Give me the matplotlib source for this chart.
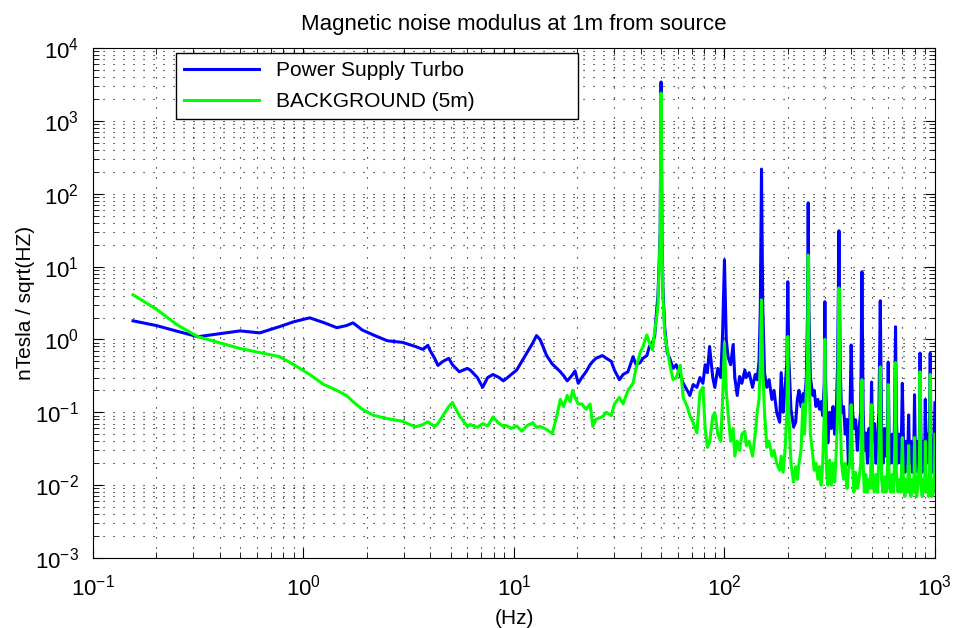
import numpy as np
import matplotlib
matplotlib.use("Agg")
import matplotlib.pyplot as plt

plt.rcParams['font.family'] = ['Liberation Sans', 'DejaVu Sans']
plt.rcParams['mathtext.fontset'] = 'custom'
plt.rcParams['mathtext.rm'] = 'Liberation Sans'

# частоти (Гц), спільні для обох кривих
freq = [
    0.155, 0.2, 0.25, 0.315, 0.4, 0.5, 0.62, 0.77, 0.9, 1.07,
    1.25, 1.44, 1.6, 1.72, 1.9, 2.15, 2.5, 2.96, 3.4, 3.7,
    3.9, 4.0, 4.2, 4.35, 4.6, 4.9, 5.1, 5.5, 6.0, 6.2,
    6.7, 7.1, 7.5, 7.95, 8.5, 8.9, 9.2, 9.7, 10.3, 10.9,
    11.5, 12.3, 12.8, 13.3, 14.3, 15.2, 16.0, 16.6, 17.2, 17.9,
    18.5, 19.0, 19.5, 20.2, 21, 22.0, 23, 23.7, 24.5, 26.3,
    27.5, 29, 30, 31.7, 33, 34.8, 36.8, 38, 39.7, 41,
    42.8, 44, 45.5, 46.6, 47.5, 48.3, 49.0, 49.5, 50.0, 50.5,
    51.0, 52, 53.5, 55, 57, 59, 61.7, 63.7, 66.5, 68.5,
    71, 74, 76.5, 79, 81, 83, 85, 88, 90, 93,
    96, 98, 100, 102, 104, 107, 110, 112, 115, 118,
    121, 125, 127, 131, 136, 140, 143, 146, 148, 150,
    152, 155, 159, 163, 168, 172, 177, 183, 186, 190,
    194, 198, 200, 202, 207, 213, 218, 222, 226, 231,
    236, 240, 245, 248, 250, 252, 256, 263, 267, 272,
    278, 283, 288, 293, 298, 300, 302, 306, 310, 316,
    322, 328, 334, 340, 345, 350, 355, 360, 368, 375,
    382, 388, 394, 400, 406, 412, 420, 428, 436, 444,
    450, 456, 462, 470, 478, 486, 494, 500, 506, 515,
    524, 534, 542, 550, 558, 566, 576, 586, 594, 600,
    606, 616, 626, 636, 644, 650, 656, 668, 680, 690,
    700, 710, 720, 730, 742, 750, 758, 770, 782, 794,
    800, 808, 820, 832, 844, 850, 858, 870, 882, 894,
    900, 910, 922, 934, 944, 950, 958, 970, 982, 994,
    1000,
]

# Power Supply Turbo (nT/sqrt(Hz))
turbo = [
    1.8, 1.55, 1.3, 1.09, 1.2, 1.31, 1.23, 1.5, 1.75, 1.98,
    1.7, 1.45, 1.55, 1.69, 1.35, 1.15, 0.96, 0.91, 0.8, 0.73,
    0.83, 0.7, 0.55, 0.44, 0.5, 0.55, 0.45, 0.36, 0.4, 0.38,
    0.3, 0.22, 0.3, 0.33, 0.3, 0.27, 0.29, 0.33, 0.38, 0.5,
    0.65, 0.9, 1.13, 1.0, 0.6, 0.46, 0.4, 0.36, 0.32, 0.27,
    0.3, 0.33, 0.37, 0.25, 0.3, 0.36, 0.45, 0.5, 0.55, 0.6,
    0.55, 0.5, 0.38, 0.28, 0.33, 0.36, 0.58, 0.45, 0.48, 0.55,
    0.6, 0.8, 0.9, 1.1, 2.3, 4, 12, 30, 3420, 25,
    5, 1.5, 0.65, 0.55, 0.4, 0.45, 0.32, 0.25, 0.2, 0.17,
    0.24, 0.22, 0.3, 0.25, 0.45, 0.35, 0.8, 0.3, 0.22, 0.4,
    0.3, 1.2, 12.4, 1.0, 0.58, 0.45, 0.85, 0.3, 0.17, 0.31,
    0.25, 0.38, 0.3, 0.35, 0.22, 0.33, 0.28, 0.5, 2.5, 218,
    3, 0.35, 0.22, 0.28, 0.15, 0.2, 0.1, 0.073, 0.35, 0.1,
    0.2, 0.5, 6.2, 0.6, 0.11, 0.063, 0.073, 0.15, 0.2, 0.12,
    0.18, 0.13, 0.3, 2, 75, 2.5, 0.3, 0.17, 0.2, 0.12,
    0.15, 0.11, 0.14, 0.09, 0.25, 3.3, 0.3, 0.08, 0.038, 0.1,
    0.06, 0.12, 0.05, 0.1, 0.5, 31, 0.4, 0.1, 0.12, 0.05,
    0.08, 0.019, 0.07, 0.84, 0.1, 0.06, 0.079, 0.03, 0.06, 0.1,
    8.5, 0.1, 0.03, 0.052, 0.02, 0.06, 0.025, 0.26, 0.04, 0.07,
    0.02, 0.05, 0.1, 3.4, 0.06, 0.02, 0.06, 0.025, 0.05, 0.49,
    0.04, 0.02, 0.05, 0.02, 0.1, 1.49, 0.08, 0.02, 0.05, 0.02,
    0.25, 0.03, 0.015, 0.04, 0.02, 0.092, 0.02, 0.04, 0.015, 0.03,
    0.174, 0.02, 0.04, 0.015, 0.05, 0.65, 0.05, 0.015, 0.04, 0.02,
    0.15, 0.02, 0.05, 0.02, 0.1, 0.65, 0.04, 0.015, 0.03, 0.05,
    0.135,
]

# BACKGROUND (5m)
background = [
    4.1, 2.6, 1.6, 1.09, 0.9, 0.75, 0.66, 0.58, 0.45, 0.33,
    0.24, 0.2, 0.17, 0.14, 0.11, 0.091, 0.082, 0.075, 0.063, 0.068,
    0.074, 0.07, 0.064, 0.07, 0.09, 0.12, 0.136, 0.09, 0.064, 0.068,
    0.062, 0.07, 0.065, 0.086, 0.07, 0.064, 0.066, 0.06, 0.065, 0.055,
    0.065, 0.072, 0.062, 0.064, 0.058, 0.051, 0.09, 0.15, 0.12, 0.17,
    0.14, 0.2, 0.16, 0.13, 0.13, 0.11, 0.13, 0.064, 0.08, 0.087,
    0.1, 0.09, 0.13, 0.16, 0.13, 0.2, 0.25, 0.4, 0.65, 0.8,
    1.15, 0.9, 0.72, 1.3, 1.86, 3, 10, 25, 2400, 20,
    4, 1.2, 0.72, 0.45, 0.28, 0.3, 0.44, 0.16, 0.12, 0.09,
    0.072, 0.052, 0.19, 0.22, 0.06, 0.033, 0.039, 0.088, 0.099, 0.05,
    0.04, 0.15, 0.9, 0.2, 0.099, 0.04, 0.06, 0.025, 0.04, 0.03,
    0.05, 0.055, 0.035, 0.04, 0.025, 0.05, 0.099, 0.15, 0.5, 3.5,
    0.4, 0.1, 0.033, 0.04, 0.025, 0.03, 0.02, 0.016, 0.025, 0.015,
    0.03, 0.1, 1.1, 0.1, 0.02, 0.011, 0.018, 0.012, 0.02, 0.03,
    0.13, 0.05, 0.2, 0.5, 14.4, 0.6, 0.05, 0.025, 0.016, 0.02,
    0.012, 0.018, 0.01, 0.02, 0.1, 1.0, 0.08, 0.015, 0.01, 0.022,
    0.01, 0.02, 0.011, 0.03, 0.1, 5.1, 0.08, 0.02, 0.012, 0.02,
    0.009, 0.015, 0.02, 0.127, 0.02, 0.008, 0.015, 0.009, 0.012, 0.02,
    0.28, 0.02, 0.008, 0.014, 0.008, 0.012, 0.009, 0.127, 0.012, 0.008,
    0.014, 0.008, 0.03, 0.42, 0.012, 0.008, 0.013, 0.008, 0.015, 0.24,
    0.01, 0.008, 0.014, 0.008, 0.03, 0.48, 0.015, 0.008, 0.012, 0.008,
    0.045, 0.009, 0.007, 0.012, 0.008, 0.035, 0.009, 0.007, 0.012, 0.008,
    0.045, 0.009, 0.007, 0.012, 0.02, 0.36, 0.01, 0.007, 0.012, 0.008,
    0.04, 0.008, 0.012, 0.007, 0.02, 0.33, 0.01, 0.007, 0.012, 0.008,
    0.05,
]

assert len(freq) == len(turbo) == len(background)

fig = plt.figure(figsize=(9.54, 6.28), dpi=100)
ax = fig.add_axes([0.0975, 0.1115, 0.8825, 0.812])

ax.loglog(freq, turbo, color=(0, 0, 1), linewidth=2.2, label='Power Supply Turbo')
ax.loglog(freq, background, color=(0, 1, 0), linewidth=2.2, label='BACKGROUND (5m)')

ax.set_xlim(0.1, 1000)
ax.set_ylim(1e-3, 1e4)

# сітка в стилі MATLAB (точки)
ax.grid(True, which='both', color='k', linestyle=(0, (1, 8)), linewidth=0.8)
ax.tick_params(which='both', direction='in', top=True, right=True, labelsize=16)
ax.tick_params(which='major', length=7)
ax.tick_params(which='minor', length=4)
ax.tick_params(axis='x', which='major', pad=12)
ax.tick_params(axis='y', which='major', pad=10)
ax.xaxis.set_major_locator(matplotlib.ticker.LogLocator(base=10, numticks=10))
ax.yaxis.set_major_locator(matplotlib.ticker.LogLocator(base=10, numticks=10))
ax.xaxis.set_minor_locator(matplotlib.ticker.LogLocator(base=10, subs=np.arange(2, 10), numticks=20))
ax.yaxis.set_minor_locator(matplotlib.ticker.LogLocator(base=10, subs=np.arange(2, 10), numticks=20))
ax.xaxis.set_minor_formatter(matplotlib.ticker.NullFormatter())
ax.yaxis.set_minor_formatter(matplotlib.ticker.NullFormatter())

ax.set_title('Magnetic noise modulus at 1m from source', fontsize=16, pad=13)
ax.set_xlabel('(Hz)', fontsize=15, labelpad=6)
ax.set_ylabel('nTesla / sqrt(HZ)', fontsize=15, labelpad=0)

leg = ax.legend(loc='upper left', bbox_to_anchor=(0.0986, 0.99, 0.477, 0.0),
                mode='expand', fontsize=15, fancybox=False, edgecolor='k',
                framealpha=1, handlelength=3.6, borderaxespad=0, labelspacing=0.55)
leg.get_frame().set_linewidth(1.0)

fig.savefig('out.png', dpi=100)
